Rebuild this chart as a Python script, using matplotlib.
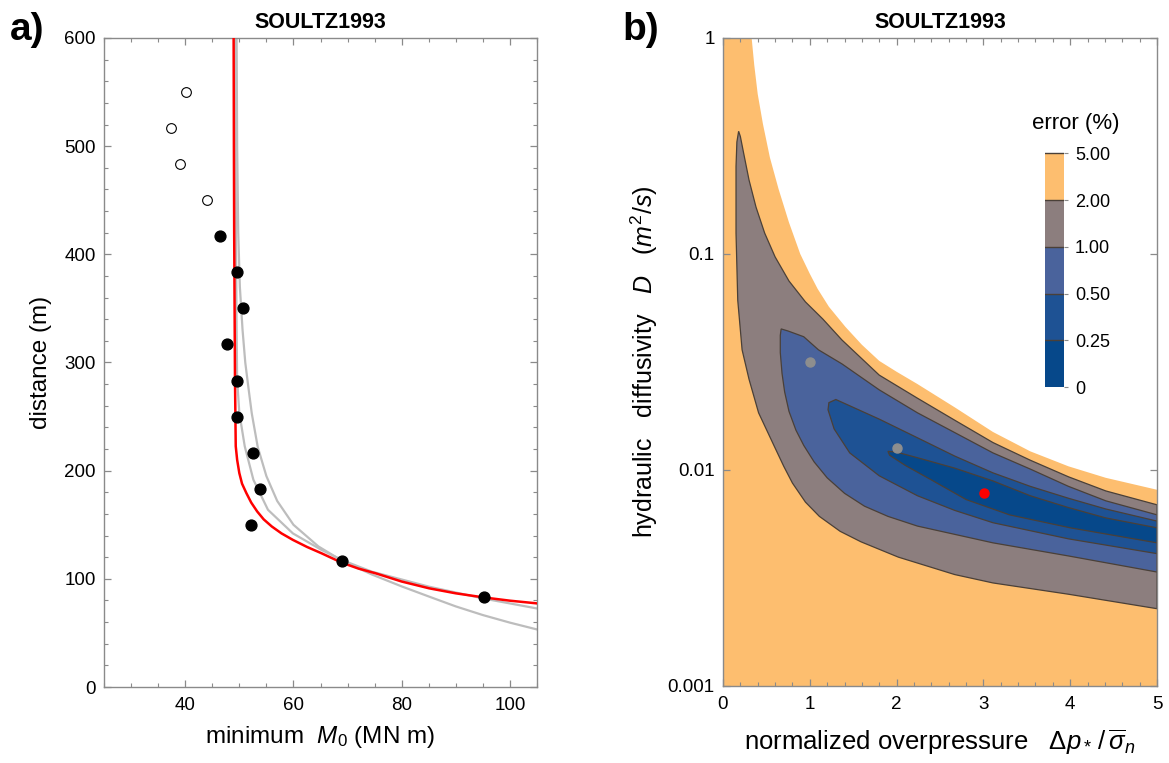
import matplotlib
matplotlib.use('Agg')
import matplotlib.pyplot as plt
from matplotlib.ticker import MultipleLocator, FixedLocator, NullLocator

plt.rcParams['font.family'] = ['Liberation Sans', 'DejaVu Sans']
plt.rcParams['mathtext.fontset'] = 'custom'
plt.rcParams['mathtext.rm'] = 'Liberation Sans'
plt.rcParams['mathtext.it'] = 'Liberation Sans:italic'
plt.rcParams['mathtext.bf'] = 'Liberation Sans:bold'

# ----- panel a: events -----
open_M0 = [40.1, 37.35, 39.0, 44.0]
open_dist = [550, 516.7, 483.3, 450]
fill_M0 = [46.4, 49.6, 50.7, 47.8, 49.5, 49.5, 52.5, 53.8, 52.1, 68.9, 95.2]
fill_dist = [416.7, 383.3, 350, 316.7, 283.3, 250, 216.7, 183.3, 150, 116.7, 83.3]

# best fit curve (red)
red_M0 = [48.95, 49.0, 49.05, 49.15, 49.2, 49.34, 49.6, 50.0, 50.5, 51.3, 52.2, 53.3,
          54.5, 56.0, 57.8, 59.9, 62.5, 65.2, 68.9, 72.0, 75.2, 80.0, 85.1, 90.0,
          95.2, 100.0, 105.0]
red_dist = [600, 500, 420, 330, 284, 222.6, 210, 197.8, 188, 179.3, 170.5, 162.3,
            155, 148.4, 142, 136, 129.5, 123.6, 115, 109.5, 105.1, 97.5, 91.2, 86.6,
            82.8, 79.8, 77.3]

# other two parameter sets (grey)
greyA_M0 = [49.5, 49.6, 49.8, 50.1, 50.6, 51.1, 51.6, 52.3, 53.4, 55.0, 57.0, 60.0,
            64.6, 68.9, 74.5, 80.0, 85.1, 90.0, 95.0, 100.0, 105.0]
greyA_dist = [600, 500, 420, 370, 330, 300, 280, 253, 222, 195, 172, 150,
              130, 117, 104, 93, 83.5, 74.5, 66.5, 59.5, 53.2]
greyB_M0 = [49.25, 49.3, 49.4, 49.5, 49.6, 50.0, 51.0, 52.6, 55.3, 59.9, 65.2, 68.9,
            74.5, 85.1, 95.0, 105.0]
greyB_dist = [600, 500, 400, 330, 284, 253.5, 222.6, 191.6, 163.8, 142, 126.7, 117.5,
              106.6, 92.7, 81.9, 72.6]

# ----- panel b: error contours (overpressure, diffusivity) -----
c5_p = [0.0, 0.0, 0.33, 0.36, 0.40, 0.46, 0.54, 0.64, 0.76, 0.89, 1.0, 1.09, 1.22,
        1.41, 1.6, 1.80, 2.0, 2.24, 2.67, 3.11, 3.54, 3.98, 4.41, 5.0, 5.0]
c5_D = [0.001, 1.0, 1.0, 0.75, 0.55, 0.40, 0.28, 0.20, 0.14, 0.10, 0.081, 0.069, 0.057,
        0.046, 0.038, 0.032, 0.0285, 0.025, 0.0195, 0.0150, 0.0122, 0.0104, 0.0092,
        0.0081, 0.001]

c2_up_p = [0.18, 0.20, 0.24, 0.30, 0.38, 0.48, 0.60, 0.76, 0.95, 1.15, 1.37, 1.80,
           2.24, 2.67, 3.11, 3.54, 3.98, 4.41, 5.0]
c2_up_D = [0.37, 0.35, 0.29, 0.22, 0.165, 0.125, 0.097, 0.075, 0.060, 0.050, 0.040,
           0.0275, 0.0215, 0.0170, 0.0134, 0.0111, 0.0093, 0.0080, 0.0069]
c2_lo_p = [0.18, 0.16, 0.15, 0.15, 0.17, 0.22, 0.30, 0.41, 0.59, 0.70, 0.80, 0.95,
           1.11, 1.35, 1.59, 2.02, 2.67, 3.11, 3.98, 5.0]
c2_lo_D = [0.37, 0.33, 0.254, 0.125, 0.061, 0.036, 0.0263, 0.0184, 0.0129, 0.0104,
           0.0087, 0.0071, 0.0061, 0.0052, 0.00465, 0.00395, 0.00328, 0.00300, 0.00266,
           0.00228]

c1_up_p = [0.67, 0.75, 0.93, 1.10, 1.37, 1.80, 2.24, 2.67, 3.11, 3.54, 3.98, 4.41, 5.0]
c1_up_D = [0.045, 0.044, 0.0414, 0.036, 0.031, 0.0235, 0.0184, 0.0149, 0.012, 0.0101,
           0.0084, 0.0072, 0.0062]
c1_lo_p = [0.67, 0.66, 0.66, 0.68, 0.71, 0.76, 0.84, 0.93, 1.05, 1.20, 1.40, 1.63,
           1.90, 2.24, 3.11, 3.98, 5.0]
c1_lo_D = [0.045, 0.042, 0.035, 0.028, 0.023, 0.0187, 0.0153, 0.0130, 0.0109, 0.0092,
           0.0078, 0.0068, 0.0061, 0.0055, 0.0046, 0.0040, 0.00337]

c05_up_p = [1.22, 1.30, 1.50, 1.80, 2.24, 2.67, 3.11, 3.54, 3.98, 4.41, 5.0]
c05_up_D = [0.0205, 0.0212, 0.0195, 0.0172, 0.0141, 0.0116, 0.0097, 0.0084, 0.0074,
            0.0066, 0.0058]
c05_lo_p = [1.22, 1.21, 1.28, 1.46, 1.80, 2.24, 2.67, 3.11, 3.98, 5.0]
c05_lo_D = [0.0205, 0.019, 0.0155, 0.012, 0.0094, 0.0076, 0.0065, 0.0057, 0.0048, 0.0041]

c025_up_p = [1.90, 2.00, 2.24, 2.67, 3.11, 3.54, 3.98, 4.41, 5.0]
c025_up_D = [0.0122, 0.0121, 0.0114, 0.0102, 0.0089, 0.0076, 0.0067, 0.0060, 0.0054]
c025_lo_p = [1.90, 1.92, 2.10, 2.40, 2.80, 3.30, 4.00, 5.0]
c025_lo_D = [0.0122, 0.0117, 0.0105, 0.0090, 0.0073, 0.0062, 0.0054, 0.0046]

# tested parameter pairs
grey_p = [1.0, 2.0]
grey_D = [0.0317, 0.0127]
best_p = [3.01]
best_D = [0.00785]

cbar_labels = ['0', '0.25', '0.50', '1.00', '2.00', '5.00']
band_colors = ['#06488a', '#1e5294', '#4a639c', '#8c7e7e', '#fdbe6f']
line_col = '#4a4038'
frame_col = '#8a8a8a'

fig = plt.figure(figsize=(11.69, 7.63), dpi=100)


def style_frame(ax):
    for s in ax.spines.values():
        s.set_color(frame_col)
        s.set_linewidth(1.0)
    ax.tick_params(which='both', direction='in', top=True, right=True,
                   color=frame_col, labelsize=13.5, labelcolor='black')
    ax.tick_params(which='major', length=5, width=0.9)
    ax.tick_params(which='minor', length=2.6, width=0.8)
    ax.tick_params(axis='x', pad=7)
    ax.tick_params(axis='y', pad=6)


# ----------------------
# ----- panel a) -----
# ----------------------
ax1 = fig.add_axes([104 / 1169, 76 / 763, 433 / 1169, 649 / 763])
ax1.plot(greyA_M0, greyA_dist, color='#bdbdbd', lw=1.6, zorder=2)
ax1.plot(greyB_M0, greyB_dist, color='#bdbdbd', lw=1.6, zorder=2)
ax1.plot(red_M0, red_dist, color='#ff0000', lw=1.8, zorder=3)
ax1.plot(open_M0, open_dist, 'o', ms=7, mfc='white', mec='black', mew=0.8, zorder=4)
ax1.plot(fill_M0, fill_dist, 'o', ms=7.8, color='black', zorder=4)
ax1.set_xlim(25, 105)
ax1.set_ylim(0, 600)
ax1.xaxis.set_major_locator(FixedLocator([40, 60, 80, 100]))
ax1.xaxis.set_minor_locator(MultipleLocator(5))
ax1.yaxis.set_major_locator(MultipleLocator(100))
ax1.yaxis.set_minor_locator(MultipleLocator(20))
style_frame(ax1)
ax1.set_title('SOULTZ1993', fontsize=15.5, weight='bold', pad=7)
ax1.set_xlabel(r'minimum  $M_0$ (MN m)', fontsize=17.5, va='top')
ax1.xaxis.set_label_coords(0.5, -0.057)
ax1.set_ylabel('distance (m)', fontsize=17.5)
ax1.yaxis.set_label_coords(-0.12, 0.5)

# ----------------------
# ----- panel b) -----
# ----------------------
ax2 = fig.add_axes([723 / 1169, 77 / 763, 434 / 1169, 648 / 763])
ax2.set_yscale('log')
ax2.fill(c5_p, c5_D, color=band_colors[4], lw=0, zorder=1)
for up_p, up_D, lo_p, lo_D, col in [
        (c2_up_p, c2_up_D, c2_lo_p, c2_lo_D, band_colors[3]),
        (c1_up_p, c1_up_D, c1_lo_p, c1_lo_D, band_colors[2]),
        (c05_up_p, c05_up_D, c05_lo_p, c05_lo_D, band_colors[1]),
        (c025_up_p, c025_up_D, c025_lo_p, c025_lo_D, band_colors[0])]:
    ax2.fill(up_p + lo_p[::-1], up_D + lo_D[::-1], facecolor=col,
             edgecolor=line_col, lw=0.9, zorder=1)
ax2.plot(grey_p, grey_D, 'o', ms=6.5, color='#8e8e8e', zorder=5)
ax2.plot(best_p, best_D, 'o', ms=6.5, color='#ff0000', zorder=5)
ax2.set_xlim(0, 5)
ax2.set_ylim(0.001, 1)
ax2.xaxis.set_major_locator(MultipleLocator(1))
ax2.xaxis.set_minor_locator(MultipleLocator(0.2))
ax2.yaxis.set_major_locator(FixedLocator([0.001, 0.01, 0.1, 1]))
ax2.yaxis.set_minor_locator(NullLocator())
ax2.set_yticklabels(['0.001', '0.01', '0.1', '1'])
style_frame(ax2)
ax2.set_title('SOULTZ1993', fontsize=15.5, weight='bold', pad=7)
ax2.set_xlabel(r'normalized overpressure   $\Delta p_*\,/\,\overline{\sigma}_n$',
               fontsize=18.5, va='top')
ax2.xaxis.set_label_coords(0.5, -0.064)
ax2.set_ylabel(r'hydraulic   diffusivity   $D$   $(m^2/s)$', fontsize=18)
ax2.yaxis.set_label_coords(-0.145, 0.5)

# legend bar for the error bands
cax = fig.add_axes([1045 / 1169, 376 / 763, 19 / 1169, 236 / 763])
for i, col in enumerate(band_colors):
    cax.bar(0.5, 1, bottom=i, width=1, color=col, lw=0)
for i in range(1, 6):
    cax.axhline(i, color=line_col, lw=1.0)
cax.set_xlim(0, 1)
cax.set_ylim(0, 5.05)
cax.set_xticks([])
cax.set_yticks(range(6))
cax.set_yticklabels(cbar_labels)
cax.yaxis.tick_right()
cax.tick_params(axis='y', length=3, color=frame_col, labelsize=13, pad=5)
for s in cax.spines.values():
    s.set_visible(False)
fig.text(1076 / 1169, 1 - 123 / 763, 'error (%)', fontsize=16, ha='center', va='center')

fig.text(10 / 1169, 1 - 40 / 763, 'a)', fontsize=28, weight='bold', va='baseline')
fig.text(622 / 1169, 1 - 40 / 763, 'b)', fontsize=28, weight='bold', va='baseline')

fig.savefig('out.png', dpi=100)
